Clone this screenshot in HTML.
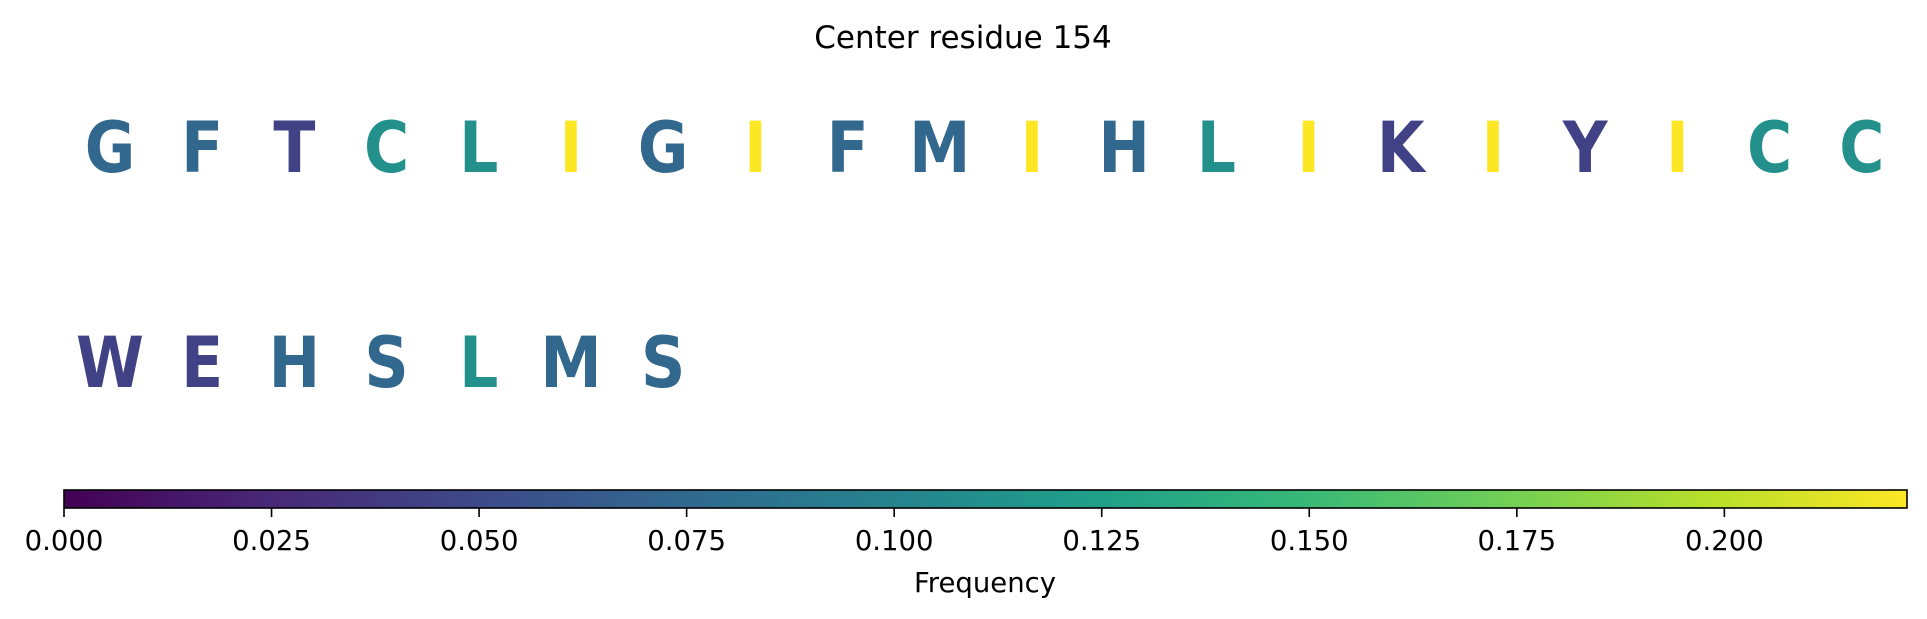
<!DOCTYPE html>
<html><head><meta charset="utf-8"><style>
html,body{margin:0;padding:0;background:#fff;}
svg{display:block;font-family:"DejaVu Sans","Liberation Sans",sans-serif;}
</style></head><body>
<svg id="chart" width="1927" height="619" viewBox="0 0 1927 619">
<defs><linearGradient id="vir" x1="0" x2="1" y1="0" y2="0"></linearGradient></defs>
<text x="963" y="48" text-anchor="middle" font-size="31" fill="#000">Center residue 154</text>
<g id="letters"></g>
<rect x="64" y="490" width="1843" height="18" fill="url(#vir)" stroke="#000" stroke-width="1.6"/>
<g id="ticks"></g>
<text x="985" y="592" text-anchor="middle" font-size="27.5" fill="#000">Frequency</text>
</svg>
<script>
const row1Letters = ["G","F","T","C","L","I","G","I","F","M","I","H","L","I","K","I","Y","I","C","C"];
const row1Values = [0.073,0.073,0.044,0.111,0.111,0.222,0.073,0.222,0.073,0.073,0.222,0.073,0.111,0.222,0.044,0.222,0.044,0.222,0.111,0.111];
const row2Letters = ["W","E","H","S","L","M","S"];
const row2Values = [0.044,0.044,0.073,0.073,0.111,0.073,0.073];
const tickValues = [0,0.025,0.05,0.075,0.1,0.125,0.15,0.175,0.2];
const tickLabels = ["0.000","0.025","0.050","0.075","0.100","0.125","0.150","0.175","0.200"];
const vmin = 0, vmax = 0.222;

const vir = ["#440154","#482878","#3e4989","#31688e","#26828e","#1f9e89","#35b779","#6ece58","#b5de2b","#fde725"];
function hex(h){return [1,3,5].map(i=>parseInt(h.substr(i,2),16));}
function color(v){
  let t=Math.max(0,Math.min(1,(v-vmin)/(vmax-vmin)))*(vir.length-1);
  let i=Math.min(Math.floor(t),vir.length-2), f=t-i;
  let a=hex(vir[i]), b=hex(vir[i+1]);
  return "rgb("+a.map((c,k)=>Math.round(c+(b[k]-c)*f)).join(",")+")";
}
const ns="http://www.w3.org/2000/svg";
const grad=document.getElementById("vir");
vir.forEach((c,i)=>{
  const s=document.createElementNS(ns,"stop");
  s.setAttribute("offset",(i/(vir.length-1)));
  s.setAttribute("stop-color",c);
  grad.appendChild(s);
});
const xCol = i => 110 + i*92.2;
const xBar = v => 64 + (v-vmin)/(vmax-vmin)*1843;
const g=document.getElementById("letters");
function drawRow(letters,values,baseline,rowIdx){
  letters.forEach((L,i)=>{
    const t=document.createElementNS(ns,"text");
    
    
    const cx=xCol(i);
    t.setAttribute("x",0);
    t.setAttribute("y",0);
    t.setAttribute("transform","translate("+cx+","+baseline+") scale(0.88,1)");
    t.setAttribute("text-anchor","middle");
    t.setAttribute("font-size","70");
    t.setAttribute("font-weight","bold");
    t.setAttribute("fill",color(values[i]));
    t.textContent=L;
    g.appendChild(t);
  });
}
drawRow(row1Letters,row1Values,172,1);
drawRow(row2Letters,row2Values,387,2);
const tg=document.getElementById("ticks");
tickValues.forEach((v,i)=>{
  const x=xBar(v);
  const l=document.createElementNS(ns,"line");
  
  
  l.setAttribute("x1",x);l.setAttribute("x2",x);
  l.setAttribute("y1",508);l.setAttribute("y2",517);
  l.setAttribute("stroke","#000");l.setAttribute("stroke-width","1.6");
  tg.appendChild(l);
  const t=document.createElementNS(ns,"text");
  
  
  t.setAttribute("x",x);t.setAttribute("y",550);
  t.setAttribute("text-anchor","middle");
  t.setAttribute("font-size","27.5");
  t.textContent=tickLabels[i];
  tg.appendChild(t);
});
</script>
</body></html>
